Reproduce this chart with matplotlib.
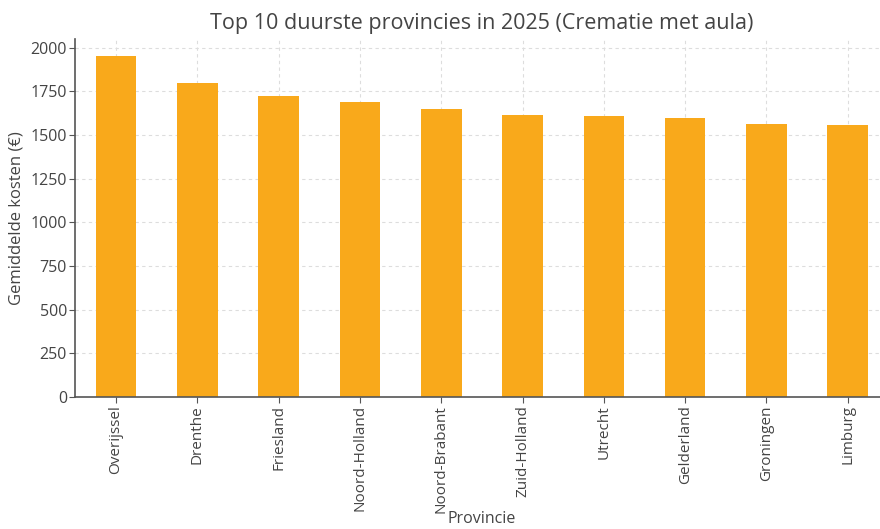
import matplotlib
matplotlib.use("Agg")
from matplotlib import pyplot as plt
import numpy as np

provincies = ["Overijssel", "Drenthe", "Friesland", "Noord-Holland", "Noord-Brabant",
              "Zuid-Holland", "Utrecht", "Gelderland", "Groningen", "Limburg"]
kosten = [1952, 1799, 1721, 1687, 1650, 1613, 1607, 1596, 1562, 1558]

plt.rcParams["font.family"] = ["Open Sans", "DejaVu Sans"]
TEXT = "#444444"

fig = plt.figure(figsize=(8.8, 5.29), dpi=100)
ax = fig.add_axes([0.0856, 0.2495, 0.924, 0.677])

x = np.arange(len(provincies))
ax.bar(x, kosten, width=0.5, color="#F9A91B", zorder=2)
ax.set_xlim(-0.5, len(provincies) - 0.5)
ax.set_ylim(0, max(kosten) * 1.05)
ax.set_yticks(np.arange(0, 2001, 250))
ax.set_xticks(x)
ax.set_xticklabels(provincies, rotation=90)

ax.grid(True, linestyle=(0, (3, 3)), color="#dddddd", linewidth=0.8, zorder=0)
for side in ["top", "right"]:
    ax.spines[side].set_visible(False)
for side in ["left", "bottom"]:
    ax.spines[side].set_color("#555555")
    ax.spines[side].set_linewidth(1.2)
ax.tick_params(colors=TEXT, labelsize=11, length=4, pad=2, color="#555555")
ax.tick_params(axis="y", labelsize=11.5)

ax.set_title("Top 10 duurste provincies in 2025 (Crematie met aula)", fontsize=15.5, color=TEXT, pad=7)
ax.set_ylabel("Gemiddelde kosten (€)", fontsize=12, color=TEXT, labelpad=4)
ax.set_xlabel("Provincie", fontsize=11.5, color=TEXT, labelpad=0)
ax.xaxis.set_label_coords(0.5, -0.318)

fig.savefig("out.png", dpi=100)
